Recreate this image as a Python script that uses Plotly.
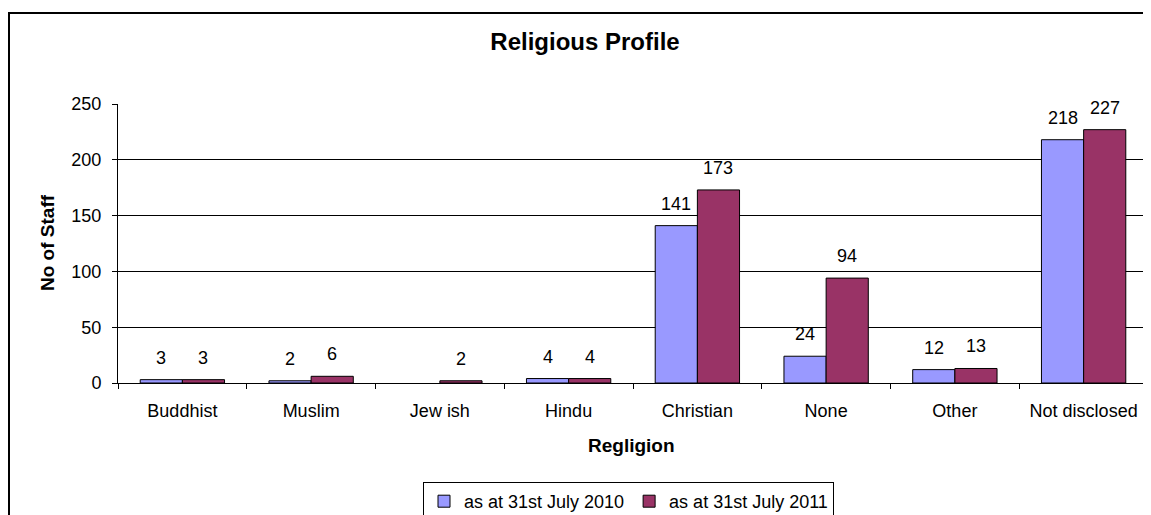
import plotly.graph_objects as go

categories = ["Buddhist", "Muslim", "Jew ish", "Hindu", "Christian", "None", "Other", "Not disclosed"]
staff_2010 = [3, 2, None, 4, 141, 24, 12, 218]
staff_2011 = [3, 6, 2, 4, 173, 94, 13, 227]
series_names = ["as at 31st July 2010", "as at 31st July 2011"]
y_ticks = [0, 50, 100, 150, 200, 250]

FONT = "Arial, Liberation Sans, sans-serif"
# page has an 8px body margin, so the figure is 8px smaller than the window
W, H = 1143, 507
L, R, T, B = 110, 3, 96, 132
pw, ph = W - L - R, H - T - B


def px_x(x):
    return (x - L) / pw


def px_y(y):
    return (H - B - y) / ph


fig = go.Figure()
fig.add_trace(go.Bar(x=categories, y=staff_2010, name=series_names[0],
                     marker=dict(color="#9999FF", line=dict(color="black", width=1))))
fig.add_trace(go.Bar(x=categories, y=staff_2011, name=series_names[1],
                     marker=dict(color="#993366", line=dict(color="black", width=1))))

annotations = []
for vals, shift in ((staff_2010, -21), (staff_2011, 21)):
    for c, v in zip(categories, vals):
        if v is None:
            continue
        annotations.append(dict(x=c, y=v, xref="x", yref="y", text=str(v), showarrow=False,
                                xshift=shift, yshift=22, yanchor="middle",
                                font=dict(family=FONT, size=18, color="black")))

annotations.append(dict(text="<b>Regligion</b>", xref="paper", yref="paper",
                        x=px_x(623), y=px_y(437), xanchor="center", yanchor="middle",
                        showarrow=False, font=dict(family=FONT, size=19, color="black")))
annotations.append(dict(text="<b>No of Staff</b>", xref="paper", yref="paper",
                        x=px_x(39), y=px_y(235), xanchor="center", yanchor="middle",
                        textangle=-90, showarrow=False,
                        font=dict(family=FONT, size=19, color="black")))

fig.add_shape(type="rect", xref="paper", yref="paper",
              x0=px_x(1), x1=px_x(W + 20), y0=px_y(H + 20), y1=px_y(5),
              line=dict(color="black", width=2), fillcolor="rgba(0,0,0,0)", layer="below")

fig.update_layout(
    width=W, height=H,
    margin=dict(l=L, r=R, t=T, b=B, pad=0, autoexpand=False),
    paper_bgcolor="white", plot_bgcolor="white",
    barmode="group", bargap=0.345, bargroupgap=0,
    title=dict(text="<b>Religious Profile</b>", xref="container", x=577 / W, xanchor="center",
               yref="container", y=1 - 34 / H, yanchor="middle",
               font=dict(family=FONT, size=24, color="black")),
    font=dict(family=FONT, size=18, color="black"),
    xaxis=dict(type="category", showline=True, linecolor="black", linewidth=1,
               ticks="outside", tickson="boundaries", ticklen=5, tickcolor="black",
               ticklabelstandoff=11, tickfont=dict(family=FONT, size=18, color="black")),
    yaxis=dict(range=[0, 250], tickvals=y_ticks, showline=True, linecolor="black", linewidth=1,
               ticks="outside", ticklen=5, tickcolor="black", showgrid=True, gridcolor="black",
               gridwidth=1, zeroline=False, ticklabelstandoff=7,
               tickfont=dict(family=FONT, size=18, color="black")),
    legend=dict(orientation="h", x=px_x(620.5), xanchor="center", y=px_y(474),
                yanchor="top", bordercolor="black", borderwidth=1,
                font=dict(family=FONT, size=18, color="black"), traceorder="normal",
                itemwidth=30),
    annotations=annotations,
    showlegend=True,
)

fig.write_html("out.html")
